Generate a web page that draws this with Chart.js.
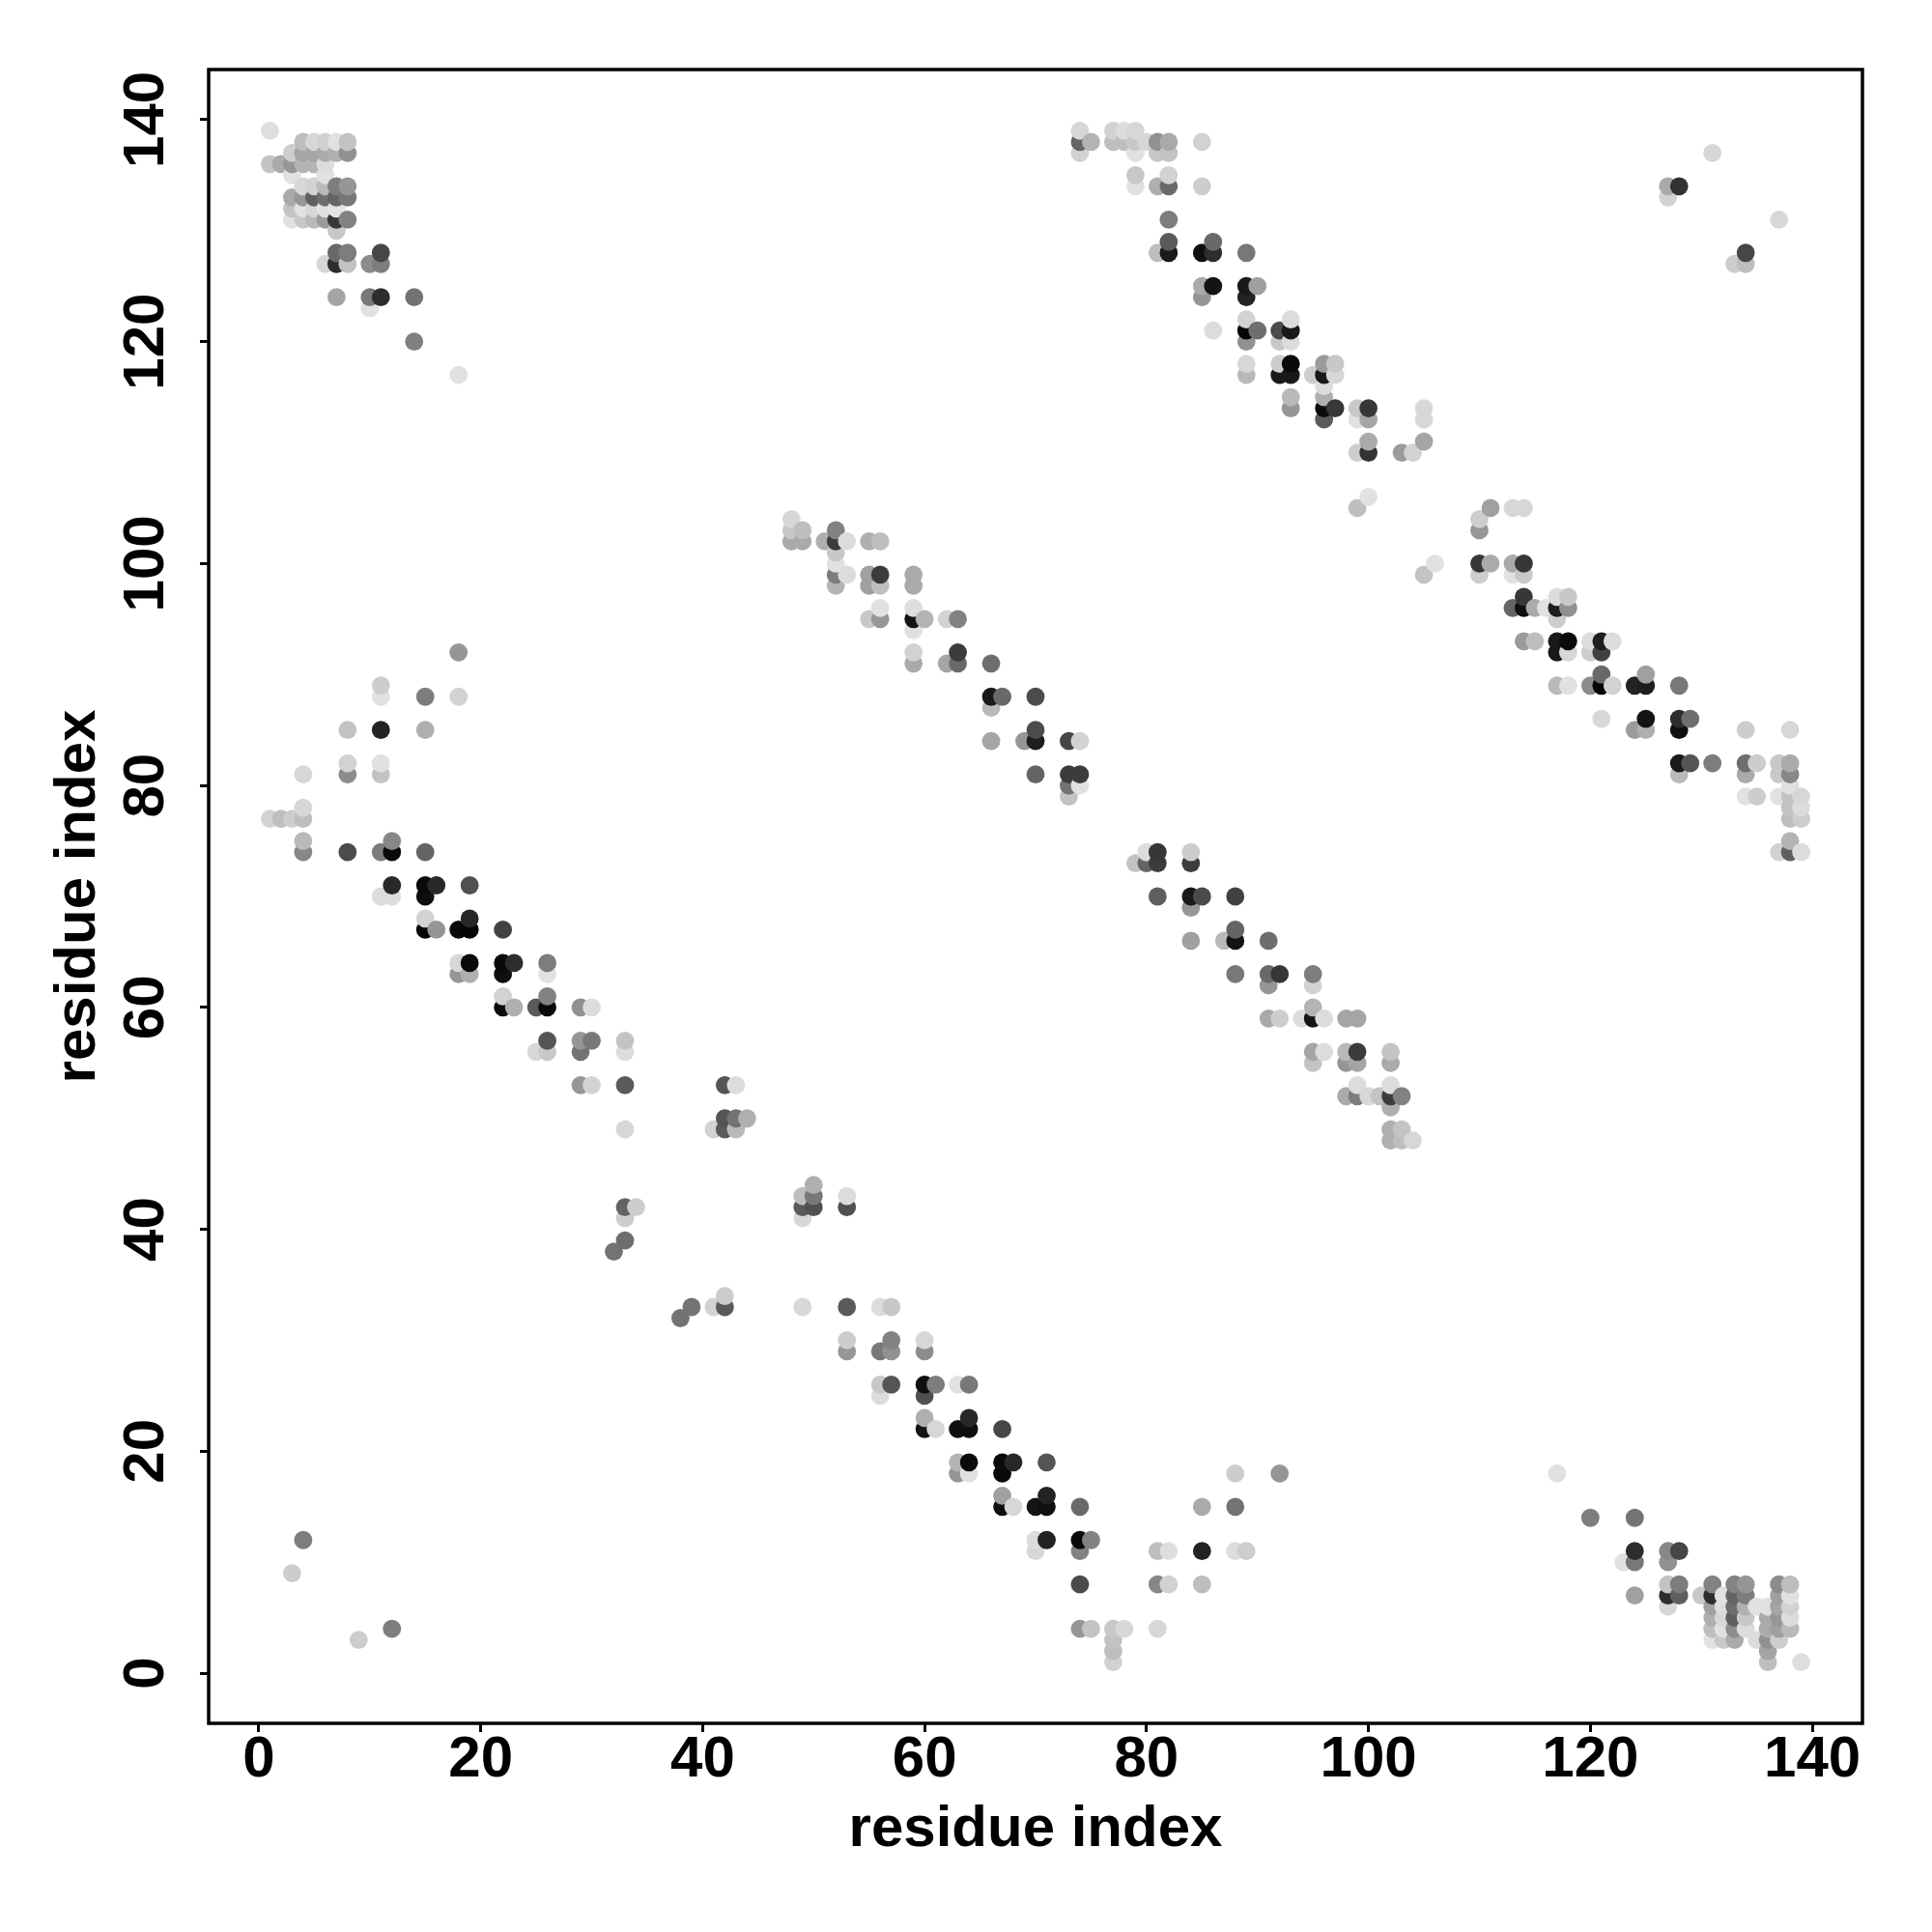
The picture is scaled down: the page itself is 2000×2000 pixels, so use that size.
<!DOCTYPE html>
<html>
<head>
<meta charset="utf-8">
<style>html,body{margin:0;padding:0;background:#fff}canvas{display:block}</style>
<script src="https://cdn.jsdelivr.net/npm/chart.js@4"></script>
</head>
<body>
<canvas id="c" width="2000" height="2000"></canvas>
<script>
// Each contact: [residue index i, residue index j, grey level]
const topLeftCluster = [
[1,139,222],[4,138,190],[5,138,215],[6,138,208],[7,138,225],[8,138,195],
[3,137,205],[4,137,165],[5,137,165],[6,137,170],[7,137,175],[8,137,145],
[1,136,195],[2,136,170],[3,136,150],[4,136,180],[5,136,180],[6,136,220],
[3,135,225],[6,135,225],
[4,134,215],[5,134,210],[6,134,185],[7,134,125],[8,134,150],
[3,133,170],[4,133,150],[5,133,95],[6,133,110],[7,133,100],[8,133,120],
[3,132,195],[4,132,225],[5,132,215],[6,132,225],[7,132,228],
[3,131,225],[4,131,200],[5,131,185],[6,131,155],[7,131,55],[8,131,130],
[7,130,200],[7,128,105],[8,128,125],[11,128,70],
[6,127,215],[7,127,45],[8,127,195],[10,127,140],[11,127,125],
[7,124,165],[10,124,120],[11,124,45],[14,124,115],[10,123,225],[14,120,128],[18,117,225]
];
const topRightDiagonal = [
[74,139,215],[74,138,100],[74,137,210],[75,138,180],[77,139,210],[77,138,190],
[78,139,220],[78,138,190],[79,139,215],[79,138,200],[79,137,225],[79,135,200],[79,134,225],
[80,138,215],[81,138,145],[81,137,200],[81,134,175],[81,128,190],
[82,138,170],[82,137,195],[82,135,210],[82,134,105],[82,131,125],[82,129,90],[82,128,25],
[85,138,210],[85,134,205],[85,128,15],[85,125,170],[85,124,150],
[86,129,105],[86,128,45],[86,125,20],[86,121,220],
[89,128,120],[89,125,25],[89,124,35],[89,122,210],[89,121,5],[89,120,145],[89,118,215],[89,117,185],
[90,125,160],[90,121,110],[92,121,75],[92,120,200],[92,118,205],[92,117,25],
[93,122,220],[93,121,25],[93,120,220],[93,118,10],[93,117,25],[93,115,185],[93,114,150],
[95,117,205],[96,118,155],[96,117,25],[96,116,220],[96,115,175],[96,114,10],[96,113,90],
[97,118,200],[97,117,215],[97,114,55],[99,114,200],[99,113,225],[99,110,205],[99,105,190],
[100,114,55],[100,113,165],[100,111,170],[100,110,50],[100,106,225],
[103,110,155],[104,110,210],[105,114,215],[105,113,215],[105,111,165]
];
const topRightIsolated = [
[127,134,170],[127,133,210],[128,134,50],[131,137,215],[133,127,205],[134,128,70],[134,127,190],[137,131,215]
];
const rightDiagonal = [
[105,99,195],[106,100,225],[110,104,205],[110,103,150],[110,100,55],[110,99,205],[111,105,160],[111,100,170],
[113,105,215],[113,100,170],[113,99,225],[113,96,100],
[114,105,215],[114,100,55],[114,99,200],[114,97,55],[114,96,15],[114,93,155],
[115,96,170],[115,93,190],[116,96,225],
[117,97,220],[117,96,30],[117,95,205],[117,93,25],[117,92,25],[117,89,185],
[118,97,200],[118,96,145],[118,93,10],[118,92,215],[118,89,225],
[120,93,220],[120,92,205],[120,89,140],[121,93,30],[121,92,65],[121,90,105],[121,89,5],[121,86,215],
[122,93,220],[122,89,210],[124,89,35],[124,85,155],[125,90,160],[125,89,30],[125,86,20],[125,85,175],
[128,89,120],[128,86,45],[128,85,15],[128,82,25],[128,81,185],[129,86,110],[129,82,85],[131,82,125],
[134,85,205],[134,82,110],[134,81,170],[134,79,225],[135,82,205],[135,79,205],
[137,82,200],[137,81,200],[137,79,225],[137,74,210],
[138,85,215],[138,82,170],[138,81,135],[138,80,225],[138,79,195],[138,78,195],[138,77,190],[138,75,180],[138,74,95],
[139,79,215],[139,78,220],[139,77,205],[139,74,220]
];
const bottomRightCluster = [
[117,18,225],[120,14,125],[123,10,225],[124,14,115],[124,11,45],[124,10,120],[124,7,160],
[127,11,135],[127,10,145],[127,8,195],[127,7,45],[127,6,215],[128,11,70],[128,8,125],[128,7,95],[130,7,200],
[131,8,130],[131,7,45],[131,6,160],[131,5,175],[131,4,190],[131,3,225],
[132,7,225],[132,6,220],[132,5,215],[132,4,225],[132,3,200],
[133,8,130],[133,7,100],[133,6,110],[133,5,95],[133,4,140],[133,3,170],
[134,8,150],[134,7,125],[134,6,175],[134,5,200],[134,4,220],[135,6,225],[135,3,220],
[136,6,225],[136,5,170],[136,4,170],[136,3,145],[136,2,165],[136,1,190],
[137,8,140],[137,7,160],[137,6,165],[137,5,150],[137,4,160],[137,3,205],
[138,8,190],[138,7,225],[138,6,210],[138,5,220],[138,4,185],[139,1,222]
];
const leftDiagonal = [
[1,77,210],[2,77,190],[3,77,205],[4,81,215],[4,78,215],[4,77,190],[4,75,185],[4,74,135],
[8,85,195],[8,82,210],[8,81,140],[8,74,75],
[11,89,205],[11,88,225],[11,85,35],[11,82,225],[11,81,195],[11,74,125],[11,70,220],
[12,75,135],[12,74,10],[12,71,40],[12,70,220],
[15,88,125],[15,85,175],[15,74,100],[15,71,10],[15,70,15],[15,68,210],[15,67,5],
[16,71,40],[16,67,150],[18,92,150],[18,88,210],[18,67,10],[18,64,215],[18,63,150],
[19,71,80],[19,68,40],[19,67,5],[19,64,10],[19,63,175],
[22,67,65],[22,64,10],[22,63,15],[22,61,210],[22,60,10],[23,64,45],[23,60,175],[25,60,90],[25,56,215],
[26,64,125],[26,63,225],[26,61,130],[26,60,10],[26,57,85],[26,56,200],
[29,60,145],[29,57,150],[29,56,115],[29,53,150],[30,60,220],[30,57,120],[30,53,210],
[33,57,195],[33,56,220],[33,53,90],[33,49,215],[33,42,100],[33,41,205],[33,39,110],[34,42,205],[32,38,115]
];
const centreBand = [
[38,32,115],[39,33,115],[41,49,210],[41,33,210],[42,53,85],[42,50,85],[42,49,90],[42,34,205],[42,33,90],
[43,53,220],[43,50,115],[43,49,185],[44,50,175],
[49,43,190],[49,42,90],[49,41,215],[49,33,215],[50,44,175],[50,43,120],[50,42,80],
[53,43,220],[53,42,80],[53,33,90],[53,30,205],[53,29,150]
];
const middleDiagonalUpper = [
[48,104,215],[48,103,200],[48,102,170],[49,103,190],[49,102,170],[51,102,175],
[52,103,130],[52,102,60],[52,101,200],[52,100,225],[52,99,125],[52,98,180],[53,102,220],[53,99,220],
[55,102,175],[55,99,160],[55,98,160],[55,95,200],[56,102,190],[56,99,60],[56,98,190],[56,96,225],[56,95,150],
[59,99,170],[59,98,170],[59,96,222],[59,95,20],[59,94,225],[59,92,210],[59,91,170],[60,95,180],
[62,95,210],[62,91,165],[63,95,130],[63,92,60],[63,91,105],
[66,91,110],[66,88,25],[66,87,185],[66,84,165],[67,88,105],[69,84,150],
[70,88,75],[70,85,75],[70,84,30],[70,81,100],[73,84,70],[73,81,60],[73,80,115],[73,79,195],[74,84,210],[74,81,60],[74,80,225]
];
const middleDiagonalLower = [
[79,73,195],[80,74,220],[80,73,100],[81,74,55],[81,73,60],[81,70,95],
[84,74,205],[84,73,60],[84,70,25],[84,69,150],[84,66,160],[85,70,75],[87,66,185],
[88,70,65],[88,67,100],[88,66,20],[88,63,120],[91,66,110],[91,63,105],[91,62,150],[91,59,170],
[92,63,55],[92,59,205],[94,59,220],[95,63,125],[95,62,210],[95,60,180],[95,59,20],[95,56,165],[95,55,195],
[96,59,220],[96,56,220],[98,59,165],[98,56,185],[98,55,150],[98,52,170],
[99,59,165],[99,56,60],[99,55,165],[99,53,220],[99,52,125],[100,52,215],[101,52,195],
[102,56,195],[102,55,170],[102,53,220],[102,52,60],[102,51,175],[102,49,175],[102,48,175],
[103,52,130],[103,49,195],[103,48,190],[104,48,215]
];
const lowerDiagonal = [
[56,33,220],[56,29,120],[56,26,200],[56,25,220],[57,33,200],[57,30,130],[57,29,145],[57,26,85],
[60,30,215],[60,29,140],[60,26,15],[60,25,80],[60,23,175],[60,22,20],[61,26,125],[61,22,215],
[63,26,225],[63,22,15],[63,19,180],[63,18,150],[64,26,120],[64,23,40],[64,22,15],[64,19,10],[64,18,225],
[67,22,70],[67,19,10],[67,18,10],[67,16,160],[67,15,15],[68,19,40],[68,15,215],
[70,15,20],[70,12,220],[70,11,215],[71,19,85],[71,16,35],[71,15,15],[71,12,35],
[74,15,105],[74,12,10],[74,11,130],[74,8,75],[74,4,150],[75,12,130],[75,4,195],
[77,4,200],[77,3,195],[77,2,190],[77,1,210],[78,4,215]
];
const bottomScattered = [
[3,9,205],[4,12,125],[9,3,205],[12,4,125],
[81,11,190],[81,8,135],[81,4,215],[82,11,222],[82,8,210],[85,15,170],[85,11,35],[85,8,190],
[88,18,205],[88,15,115],[88,11,220],[89,11,205],[92,18,150]
];
const tickStep = 20;
const axisLabel = "residue index";

const contacts = [].concat(topLeftCluster, topRightDiagonal, topRightIsolated, rightDiagonal,
  bottomRightCluster, leftDiagonal, centreBand, middleDiagonalUpper, middleDiagonalLower,
  lowerDiagonal, bottomScattered).sort((a, b) => a[0] - b[0] || a[1] - b[1]);

const frame = {
  id: 'frame',
  afterDatasetsDraw(chart) {
    const a = chart.chartArea, g = chart.ctx;
    g.save();
    g.strokeStyle = '#000';
    g.lineWidth = 3.5;
    g.strokeRect(a.left, a.top, a.right - a.left, a.bottom - a.top);
    g.restore();
  }
};

new Chart(document.getElementById('c'), {
  type: 'scatter',
  data: { datasets: [{
    data: contacts.map(c => ({ x: c[0], y: c[1] })),
    pointRadius: 9.4,
    pointHoverRadius: 9.4,
    borderWidth: 0,
    pointBorderWidth: 0,
    pointBackgroundColor: contacts.map(c => `rgb(${c[2]},${c[2]},${c[2]})`)
  }]},
  options: {
    responsive: false,
    animation: false,
    devicePixelRatio: 1,
    layout: { padding: { top: 72, right: 72, left: 0, bottom: 0 } },
    plugins: { legend: { display: false }, tooltip: { enabled: false }, title: { display: false } },
    scales: {
      x: {
        type: 'linear', min: -4.52, max: 144.52,
        afterFit(s) { s.height = 216; },
        grid: { drawOnChartArea: false, drawTicks: true, tickLength: 9, tickWidth: 3, tickColor: '#000' },
        border: { display: false },
        ticks: { stepSize: tickStep, includeBounds: false, maxRotation: 0, minRotation: 0, padding: -7, color: '#000',
                 font: { family: '"Liberation Sans"', weight: 'bold', size: 60 } },
        title: { display: true, text: axisLabel, color: '#000', padding: { top: 0, bottom: 70 },
                 font: { family: '"Liberation Sans"', weight: 'bold', size: 60 } }
      },
      y: {
        type: 'linear', min: -4.52, max: 144.52,
        afterFit(s) { s.width = 216; },
        grid: { drawOnChartArea: false, drawTicks: true, tickLength: 9, tickWidth: 3, tickColor: '#000' },
        border: { display: false },
        ticks: { stepSize: tickStep, includeBounds: false, minRotation: 90, maxRotation: 90, crossAlign: 'center', padding: 4, color: '#000',
                 font: { family: '"Liberation Sans"', weight: 'bold', size: 60 } },
        title: { display: true, text: axisLabel, color: '#000', padding: { top: 45, bottom: 0 },
                 font: { family: '"Liberation Sans"', weight: 'bold', size: 60 } }
      }
    }
  },
  plugins: [frame]
});
</script>
</body>
</html>
